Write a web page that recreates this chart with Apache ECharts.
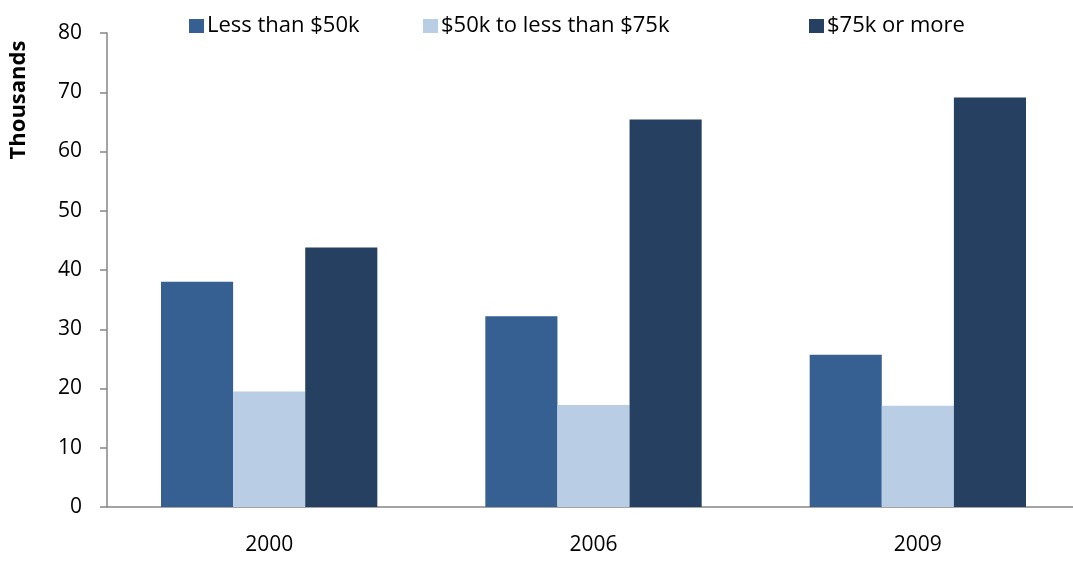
<!DOCTYPE html>
<html>
<head>
<meta charset="UTF-8">
<title></title>
<style>html,body{margin:0;padding:0;background:#fff;}#chart{width:1073px;height:561px;}</style>
</head>
<body>
<div id="chart"></div>
<script src="https://cdn.jsdelivr.net/npm/echarts@6/dist/echarts.min.js"></script>
<script>
var years = ['2000', '2006', '2009'];
var seriesNames = ['Less than $50k', '$50k to less than $75k', '$75k or more'];
var lessThan50k = [38.0, 32.2, 25.7];
var from50kTo75k = [19.5, 17.2, 17.1];
var over75k = [43.8, 65.4, 69.1];
var colors = ['#376092', '#b9cde5', '#254061'];
var font = 'Open Sans';

var chart = echarts.init(document.getElementById('chart'));

// one legend per item so each can sit where the original has it
var legendLefts = [184, 418, 804];
var legends = seriesNames.map(function (n, i) {
  return {
    data: [n],
    left: legendLefts[i],
    top: 10,
    itemWidth: 15,
    itemHeight: 14,
    icon: 'rect',
    itemGap: 0,
    textStyle: {fontFamily: font, fontSize: 22, color: '#000', padding: [0, 0, 0, -2]}
  };
});

var values = [lessThan50k, from50kTo75k, over75k];

chart.setOption({
  animation: false,
  backgroundColor: '#fff',
  legend: legends,
  grid: {left: 107, top: 33, width: 973, height: 474, outerBoundsMode: 'none', containLabel: false},
  xAxis: {
    type: 'category',
    data: years,
    axisLine: {lineStyle: {color: '#868686', width: 1.5}},
    axisTick: {length: 7, lineStyle: {color: '#868686', width: 1.5}},
    axisLabel: {fontFamily: font, fontSize: 21, color: '#000', margin: 28}
  },
  yAxis: {
    type: 'value',
    min: 0,
    max: 80,
    interval: 10,
    splitLine: {show: false},
    axisLine: {show: true, lineStyle: {color: '#868686', width: 1.5}},
    axisTick: {show: true, length: 7, lineStyle: {color: '#868686', width: 1.5}},
    axisLabel: {fontFamily: font, fontSize: 21, color: '#000', margin: 25}
  },
  graphic: [{
    type: 'text',
    x: 19,
    y: 100,
    rotation: Math.PI / 2,
    style: {
      text: 'Thousands',
      fontFamily: font,
      fontSize: 22,
      fontWeight: 'bold',
      fill: '#000',
      textAlign: 'center',
      textVerticalAlign: 'middle'
    }
  }],
  series: seriesNames.map(function (n, i) {
    return {
      name: n,
      type: 'bar',
      data: values[i],
      barGap: '0%',
      barCategoryGap: '33.3%',
      itemStyle: {color: colors[i]}
    };
  })
});
</script>
</body>
</html>
